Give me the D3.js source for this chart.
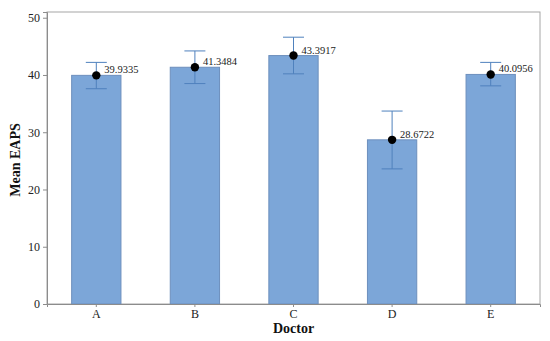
<!DOCTYPE html>
<html>
<head>
<meta charset="utf-8">
<script src="https://cdn.jsdelivr.net/npm/d3@7"></script>
<style>
  body { margin: 0; background: #fff; }
  svg text { font-family: "Liberation Serif", "Times New Roman", serif; }
</style>
</head>
<body>
<div id="chart"></div>
<script>
// data
const doctors = ["A", "B", "C", "D", "E"];
const means = [39.9335, 41.3484, 43.3917, 28.6722, 40.0956];
const upper = [42.2, 44.2, 46.6, 33.7, 42.2];
const lower = [37.6, 38.5, 40.2, 23.6, 38.1];
const yTicks = [0, 10, 20, 30, 40, 50];

const W = 550, H = 341;
const margin = { top: 12, right: 10, bottom: 37, left: 47 };
const width = W - margin.left - margin.right;
const height = H - margin.top - margin.bottom;

const svg = d3.select("#chart").append("svg")
    .attr("width", W).attr("height", H);
const g = svg.append("g")
    .attr("transform", `translate(${margin.left},${margin.top})`);

const x = d3.scaleBand().domain(doctors).range([0, width]).paddingInner(0.5).paddingOuter(0.25);
const y = d3.scaleLinear().domain([0, 51]).range([height, 0]);

const data = doctors.map((d, i) => ({ doc: d, mean: means[i], hi: upper[i], lo: lower[i] }));

// frame
g.append("rect")
    .attr("x", 0).attr("y", 0).attr("width", width).attr("height", height)
    .attr("fill", "none").attr("stroke", "#a6a6a6").attr("stroke-width", 1);

// bars
g.selectAll(".bar").data(data).enter().append("rect")
    .attr("x", d => x(d.doc))
    .attr("y", d => y(d.mean))
    .attr("width", x.bandwidth())
    .attr("height", d => y(0) - y(d.mean))
    .attr("fill", "#7ca6d8")
    .attr("stroke", "#6d8fbd")
    .attr("stroke-width", 1);

// error bars
const cap = 10.5;
const eb = g.selectAll(".eb").data(data).enter().append("g")
    .attr("stroke", "#4f81bd").attr("stroke-width", 1);
eb.append("line")
    .attr("x1", d => x(d.doc) + x.bandwidth() / 2).attr("x2", d => x(d.doc) + x.bandwidth() / 2)
    .attr("y1", d => y(d.hi)).attr("y2", d => y(d.lo));
eb.append("line")
    .attr("x1", d => x(d.doc) + x.bandwidth() / 2 - cap).attr("x2", d => x(d.doc) + x.bandwidth() / 2 + cap)
    .attr("y1", d => y(d.hi)).attr("y2", d => y(d.hi));
eb.append("line")
    .attr("x1", d => x(d.doc) + x.bandwidth() / 2 - cap).attr("x2", d => x(d.doc) + x.bandwidth() / 2 + cap)
    .attr("y1", d => y(d.lo)).attr("y2", d => y(d.lo));

// mean points
g.selectAll(".pt").data(data).enter().append("circle")
    .attr("cx", d => x(d.doc) + x.bandwidth() / 2)
    .attr("cy", d => y(d.mean))
    .attr("r", 4.2)
    .attr("fill", "#000");

// value labels
g.selectAll(".lbl").data(data).enter().append("text")
    .attr("x", d => x(d.doc) + x.bandwidth() / 2 + 8)
    .attr("y", d => y(d.mean) - 2)
    .attr("font-size", 10.5)
    .attr("fill", "#222")
    .style("font-family", "Liberation Serif")
    .text(d => d.mean.toFixed(4));

// axes
const yAxis = g.append("g")
    .call(d3.axisLeft(y).tickValues(yTicks).tickSize(4).tickPadding(3));
yAxis.select(".domain").attr("stroke", "#8c8c8c");
yAxis.selectAll(".tick line").attr("stroke", "#8c8c8c");
yAxis.selectAll("text").attr("font-size", 12).attr("fill", "#222")
    .style("font-family", "Liberation Serif");

const xAxis = g.append("g")
    .attr("transform", `translate(0,${height})`)
    .call(d3.axisBottom(x).tickSize(3).tickPadding(2));
xAxis.select(".domain").attr("stroke", "#8c8c8c");
xAxis.selectAll(".tick line").attr("stroke", "#8c8c8c");
xAxis.selectAll("text").attr("font-size", 12).attr("fill", "#222")
    .style("font-family", "Liberation Serif");

// axis titles
svg.append("text")
    .attr("transform", `translate(20,${margin.top + height / 2 + 2}) rotate(-90)`)
    .attr("text-anchor", "middle")
    .attr("font-size", 14).attr("font-weight", "bold").attr("fill", "#111")
    .style("font-family", "Liberation Serif")
    .text("Mean EAPS");

svg.append("text")
    .attr("x", margin.left + width / 2)
    .attr("y", 333)
    .attr("text-anchor", "middle")
    .attr("font-size", 14).attr("font-weight", "bold").attr("fill", "#111")
    .style("font-family", "Liberation Serif")
    .text("Doctor");
</script>
</body>
</html>
